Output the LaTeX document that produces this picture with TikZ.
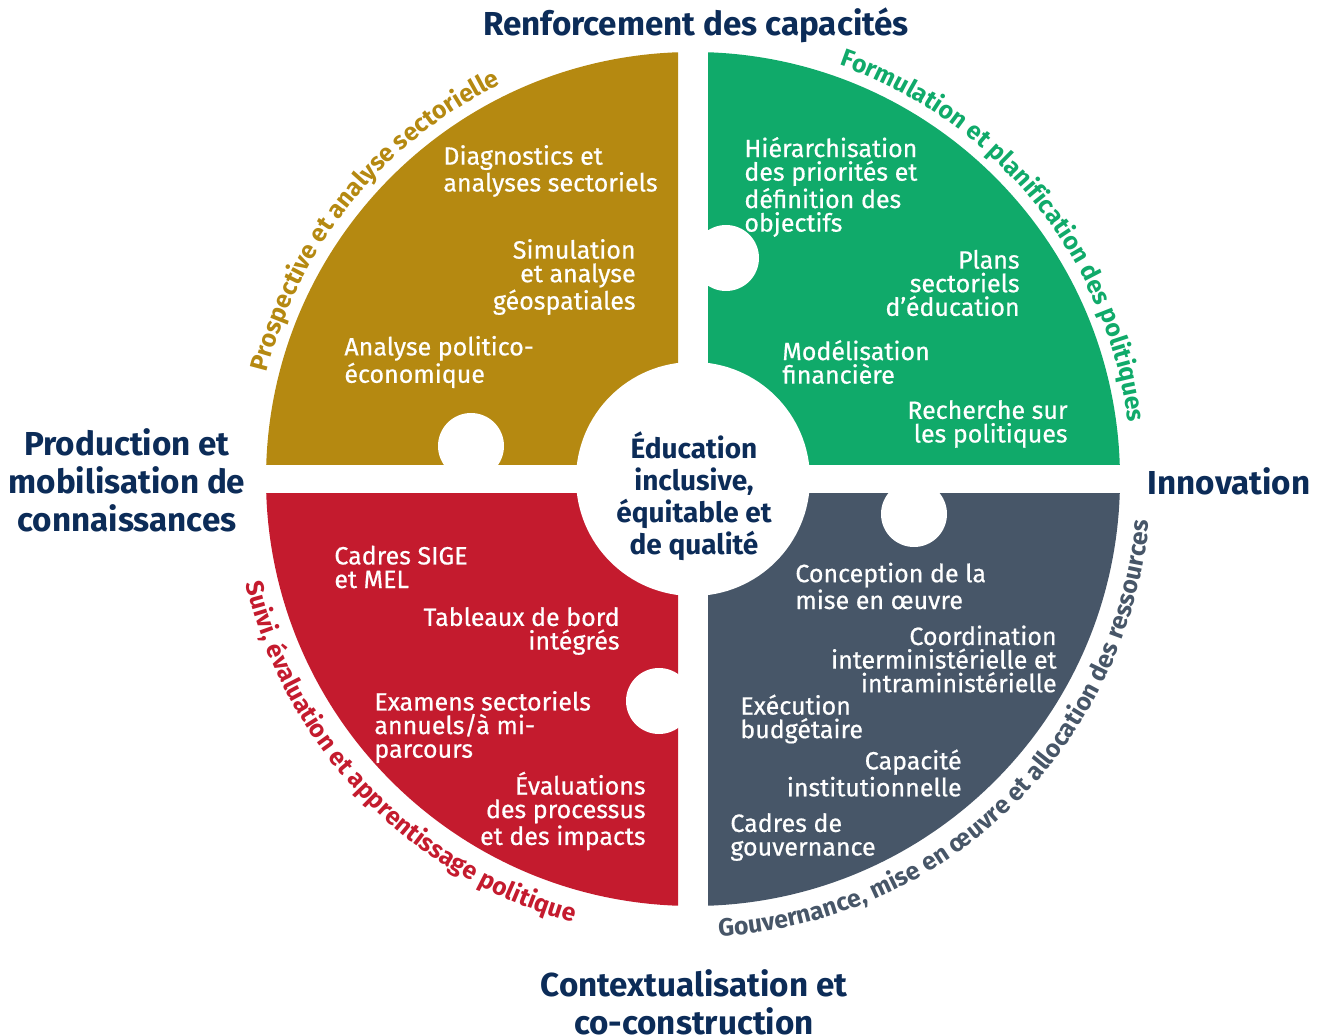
\documentclass[tikz,border=0pt]{standalone}
\usepackage{fontspec}
\setmainfont{Fira Sans}
\newfontfamily\itemfamily{Fira Sans}[FakeBold=0.6]
\usetikzlibrary{decorations.text}

\definecolor{gold}{RGB}{181,137,17}
\definecolor{leaf}{RGB}{16,170,106}
\definecolor{crimson}{RGB}{196,27,46}
\definecolor{slate}{RGB}{71,86,104}
\definecolor{navy}{RGB}{12,44,88}

\newcommand\arcfont{\fontsize{12.4}{14}\selectfont\bfseries}

\tikzset{
  item/.style={text=white, font=\itemfamily\fontsize{12.5}{11.8}\selectfont, inner sep=0pt},
  itemL/.style={item, align=left, anchor=west},
  itemR/.style={item, align=right, anchor=east},
  head/.style={text=navy, font=\fontsize{16.6}{19}\selectfont\bfseries, align=center, inner sep=0pt},
  arctext/.style={decorate, decoration={text along path, text align=center, text={#1}}}
}

\begin{document}
\begin{tikzpicture}[x=0.5pt, y=0.5pt]
  \useasboundingbox (0,0) rectangle (1318,1035);
  \coordinate (c) at (693,556);

  % Quadrants
  \begin{scope}
    \clip (0,570) rectangle (678,1035);
    \fill[gold] (c) circle (427);
  \end{scope}
  \begin{scope}
    \clip (708,570) rectangle (1318,1035);
    \fill[leaf] (c) circle (427);
  \end{scope}
  \begin{scope}
    \clip (0,0) rectangle (678,541);
    \fill[crimson] (c) circle (427);
  \end{scope}
  \begin{scope}
    \clip (708,0) rectangle (1318,541);
    \fill[slate] (c) circle (427);
  \end{scope}

  % Hub and puzzle holes
  \fill[white] (c) circle (117);
  \foreach \p in {(471,589), (726,777), (659,334), (914,521)}
    \fill[white] \p circle (33);

  % Curved labels
  \path[arctext={|\arcfont\color{gold}|Prospective et analyse sectorielle}]
    (c) ++(175:439) arc[start angle=175, end angle=107, radius=439];
  \path[arctext={|\arcfont\color{leaf}|Formulation et planification des politiques}]
    (c) ++(79:439) arc[start angle=79, end angle=-1, radius=439];
  \path[arctext={|\arcfont\color{crimson}|Suivi, évaluation et apprentissage politique}]
    (c) ++(184:459) arc[start angle=184, end angle=264, radius=459];
  \path[arctext={|\arcfont\color{slate}|Gouvernance, mise en œuvre et allocation des ressources}]
    (c) ++(265:458) arc[start angle=265, end angle=363, radius=458];

  % Gold items
  \node[itemL] (diag) at (443,864) {Diagnostics et\\analyses sectoriels};
  \node[itemR] (simu) at (636,758) {Simulation\\et analyse\\géospatiales};
  \node[itemL] (poli) at (344,673) {Analyse politico-\\économique};

  % Green items
  \node[itemL] (hier) at (744,848) {Hiérarchisation\\des priorités et\\définition des\\objectifs};
  \node[itemR] (plan) at (1020,752) {Plans\\sectoriels\\d’éducation};
  \node[itemL] (mode) at (782,673) {Modélisation\\financière};
  \node[itemR] (rech) at (1068,611) {Recherche sur\\les politiques};

  % Red items
  \node[itemL] (sige) at (334,468) {Cadres SIGE\\et MEL};
  \node[itemR] (tabl) at (620,404) {Tableaux de bord\\intégrés};
  \node[itemL] (exam) at (374,308) {Examens sectoriels\\annuels/à mi-\\parcours};
  \node[itemR] (eval) at (646,224) {Évaluations\\des processus\\et des impacts};

  % Slate items
  \node[itemL] (conc) at (795,449) {Conception de la\\mise en œuvre};
  \node[itemR] (coor) at (1057,376) {Coordination\\interministérielle et\\intraministérielle};
  \node[itemL] (exec) at (740,316) {Exécution\\budgétaire};
  \node[itemR] (capa) at (962,262) {Capacité\\institutionnelle};
  \node[itemL] (gouv) at (730,198) {Cadres de\\gouvernance};

  % Hub text and outer headings
  \node[text=navy, font=\fontsize{14}{16}\selectfont\bfseries, align=center, inner sep=0pt]
    (hub) at (694,539) {Éducation\\inclusive,\\équitable et\\de qualité};
  \node[head] (renf) at (696,1010) {Renforcement des capacités};
  \node[head] (prod) at (127,555) {Production et\\mobilisation de\\connaissances};
  \node[head] (inno) at (1229,554) {Innovation};
  \node[head] (cont) at (694,33) {Contextualisation et\\co-construction};
\end{tikzpicture}
\end{document}
